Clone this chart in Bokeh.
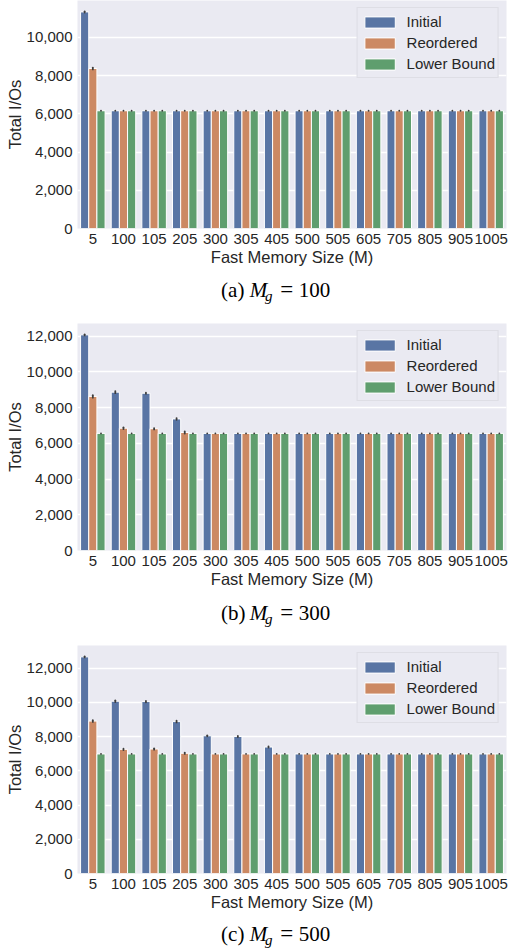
from bokeh.plotting import figure
from bokeh.models import (FactorRange, Range1d, NumeralTickFormatter, FixedTicker,
                          Legend, LegendItem, ColumnDataSource)
from bokeh.transform import dodge
from bokeh.layouts import column
from bokeh.embed import file_html
from bokeh.resources import INLINE
from bokeh.core.properties import value

# ---------------- data ----------------
sizes = ["5", "100", "105", "205", "300", "305", "405", "500", "505", "605", "705", "805", "905", "1005"]
series = ["Initial", "Reordered", "Lower Bound"]
colors = ["#5975a4", "#cc8963", "#5f9e6e"]
y_ticks = [0, 2000, 4000, 6000, 8000, 10000, 12000]

# (a) M_g = 100
initial_a = [11330, 6160, 6160, 6160, 6160, 6160, 6160, 6160, 6160, 6160, 6160, 6160, 6160, 6160]
reordered_a = [8370, 6160, 6160, 6160, 6160, 6160, 6160, 6160, 6160, 6160, 6160, 6160, 6160, 6160]
lower_a = [6160, 6160, 6160, 6160, 6160, 6160, 6160, 6160, 6160, 6160, 6160, 6160, 6160, 6160]
err_initial_a = [30, 0, 0, 0, 0, 0, 0, 0, 0, 0, 0, 0, 0, 0]
err_reordered_a = [50, 0, 0, 0, 0, 0, 0, 0, 0, 0, 0, 0, 0, 0]

# (b) M_g = 300
initial_b = [12080, 8870, 8810, 7370, 6560, 6560, 6560, 6560, 6560, 6560, 6560, 6560, 6560, 6560]
reordered_b = [8630, 6850, 6820, 6610, 6560, 6560, 6560, 6560, 6560, 6560, 6560, 6560, 6560, 6560]
lower_b = [6560, 6560, 6560, 6560, 6560, 6560, 6560, 6560, 6560, 6560, 6560, 6560, 6560, 6560]
err_initial_b = [30, 60, 30, 50, 0, 0, 0, 0, 0, 0, 0, 0, 0, 0]
err_reordered_b = [70, 50, 40, 60, 0, 0, 0, 0, 0, 0, 0, 0, 0, 0]

# (c) M_g = 500
initial_c = [12650, 10060, 10040, 8870, 8040, 8000, 7385, 6980, 6980, 6980, 6980, 6980, 6980, 6980]
reordered_c = [8900, 7250, 7270, 7020, 6980, 6980, 6980, 6980, 6980, 6980, 6980, 6980, 6980, 6980]
lower_c = [6980, 6980, 6980, 6980, 6980, 6980, 6980, 6980, 6980, 6980, 6980, 6980, 6980, 6980]
err_initial_c = [30, 50, 40, 50, 30, 30, 30, 0, 0, 0, 0, 0, 0, 0]
err_reordered_c = [50, 40, 40, 40, 0, 0, 0, 0, 0, 0, 0, 0, 0, 0]
err_none = [0, 0, 0, 0, 0, 0, 0, 0, 0, 0, 0, 0, 0, 0]

captions = [("(a)", "100"), ("(b)", "300"), ("(c)", "500")]

FONT = "Liberation Sans"
SERIF = "Liberation Serif"
TEXT = "#262626"
W = 508
BOTTOM = 46
BAR_W = 0.8 / 3
OFFS = [-BAR_W, 0.0, BAR_W]


def make_panel(vals, errs, top_border, frame_h):
    tops = [v + e for s, es in zip(vals, errs) for v, e in zip(s, es)]
    y_end = 1.05 * max(tops)
    p = figure(width=W, height=top_border + frame_h + BOTTOM, output_backend="svg",
               toolbar_location=None, title=None, x_range=FactorRange(factors=sizes),
               y_range=Range1d(0, y_end))
    p.min_border_left = 77
    p.min_border_right = 2
    p.min_border_top = top_border
    p.min_border_bottom = BOTTOM
    p.background_fill_color = "#eaeaf2"
    p.border_fill_color = "white"
    p.outline_line_color = None
    p.xgrid.visible = False
    p.ygrid.grid_line_color = "white"
    p.ygrid.grid_line_width = 1.3
    p.yaxis.ticker = FixedTicker(ticks=y_ticks)
    p.yaxis.formatter = NumeralTickFormatter(format="0,0")
    for ax in (p.xaxis[0], p.yaxis[0]):
        ax.axis_line_color = None
        ax.major_tick_line_color = None
        ax.minor_tick_line_color = None
        ax.major_tick_out = 0
        ax.major_tick_in = 0
        ax.minor_tick_out = 0
        ax.minor_tick_in = 0
        ax.major_label_text_font = FONT
        ax.major_label_text_color = TEXT
        ax.axis_label_text_font = FONT
        ax.axis_label_text_color = TEXT
        ax.axis_label_text_font_style = "normal"
        ax.axis_label_text_font_size = "16.5px"
    p.yaxis.axis_label_standoff = 0
    p.xaxis.axis_label_standoff = 1
    p.yaxis.major_label_text_font_size = "15px"
    p.yaxis.major_label_standoff = 5
    p.xaxis.major_label_text_font_size = "15px"
    p.xaxis.major_label_standoff = 5
    p.xaxis.axis_label = "Fast Memory Size (M)"
    p.yaxis.axis_label = "Total I/Os"

    items = []
    for name, col, off, v, e in zip(series, colors, OFFS, vals, errs):
        src = ColumnDataSource(dict(x=sizes, top=v,
                                    lo=[a - b for a, b in zip(v, e)],
                                    hi=[a + b for a, b in zip(v, e)]))
        r = p.vbar(x=dodge("x", off, range=p.x_range), top="top", bottom=0, width=BAR_W,
                   source=src, fill_color=col, line_color="white", line_width=1)
        p.segment(x0=dodge("x", off, range=p.x_range), x1=dodge("x", off, range=p.x_range),
                  y0="lo", y1="hi", source=src, line_color="#3d3d3d", line_width=1.8,
                  line_cap="round")
        items.append(LegendItem(label=name, renderers=[r]))
    lg = Legend(items=items, location="top_right")
    lg.margin = 7
    lg.padding = 3
    lg.spacing = 0
    lg.glyph_width = 38
    lg.glyph_height = 14
    lg.label_height = 21
    lg.label_standoff = 8
    lg.label_text_font = FONT
    lg.label_text_font_size = "15px"
    lg.label_text_color = TEXT
    lg.background_fill_color = "#eaeaf2"
    lg.background_fill_alpha = 1.0
    lg.border_line_color = "#d2d2d8"
    lg.border_line_width = 1
    p.add_layout(lg)
    return p


def make_caption(letter, mg, height, mid):
    c = figure(width=W, height=height, output_backend="svg", toolbar_location=None,
               title=None, x_axis_location=None, y_axis_location=None,
               x_range=Range1d(0, W), y_range=Range1d(0, height))
    c.min_border_left = 0
    c.min_border_right = 0
    c.min_border_top = 0
    c.min_border_bottom = 0
    c.grid.visible = False
    c.outline_line_color = None
    c.background_fill_color = "white"
    c.border_fill_color = "white"
    kw = dict(text_baseline="middle", text_align="left", text_color="black",
              text_font=value(SERIF))
    c.text(x=[170], y=[mid], text=[letter], text_font_size="21px", **kw)
    c.text(x=[204], y=[mid], text=["M"], text_font_size="21px", text_font_style="italic", **kw)
    c.text(x=[222], y=[mid - 6], text=["g"], text_font_size="15px", text_font_style="italic", **kw)
    c.text(x=[240], y=[mid], text=["="], text_font_size="23px", **kw)
    c.text(x=[262], y=[mid], text=[mg], text_font_size="21px", **kw)
    return c


pa = make_panel([initial_a, reordered_a, lower_a], [err_initial_a, err_reordered_a, err_none], 0, 228)
pb = make_panel([initial_b, reordered_b, lower_b], [err_initial_b, err_reordered_b, err_none], 11, 227)
pc = make_panel([initial_c, reordered_c, lower_c], [err_initial_c, err_reordered_c, err_none], 11, 228)
ca = make_caption(captions[0][0], captions[0][1], 38, 23)
cb = make_caption(captions[1][0], captions[1][1], 38, 22)
cc = make_caption(captions[2][0], captions[2][1], 31, 17)

layout = column(pa, ca, pb, cb, pc, cc, spacing=0)
open("out.html", "w").write(file_html(layout, INLINE))
